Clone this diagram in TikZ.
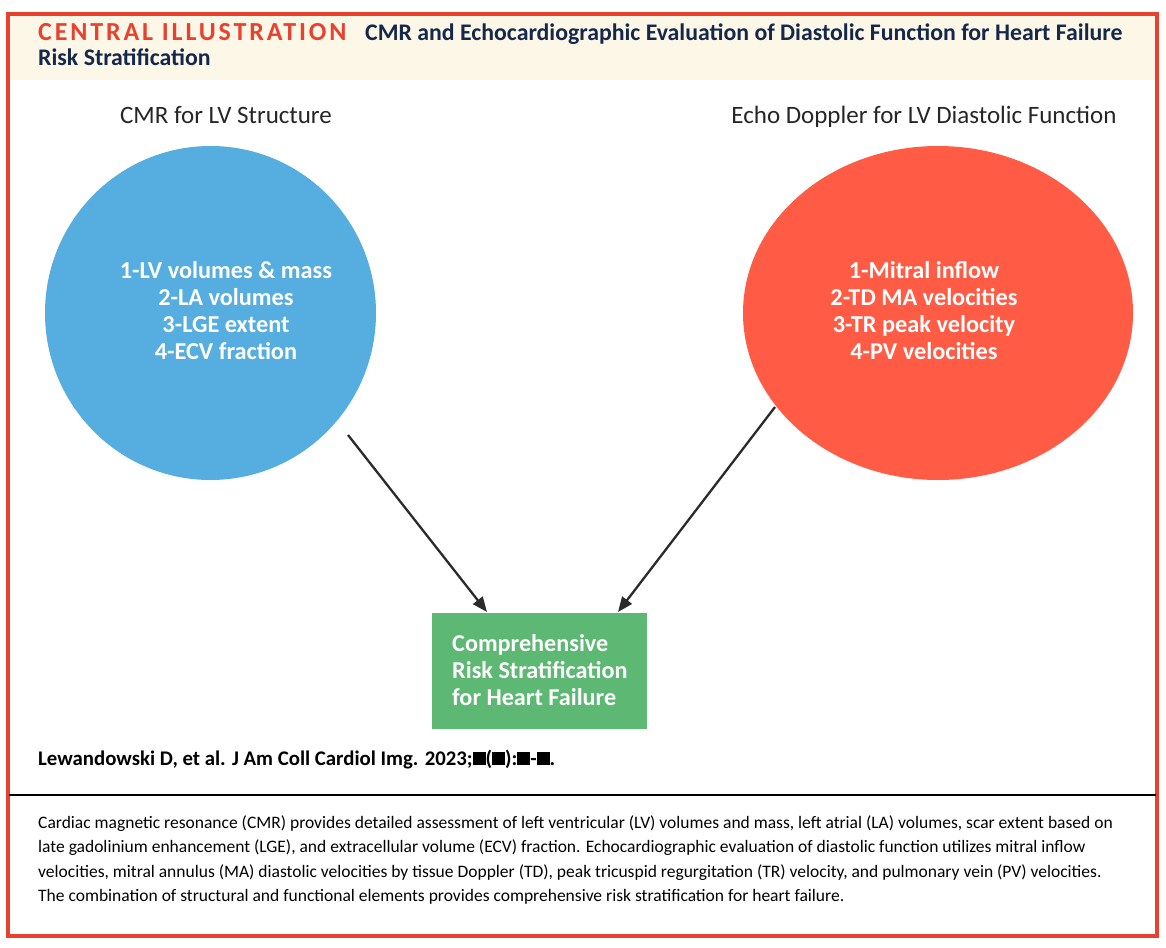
\documentclass[tikz,border=0pt]{standalone}
\usepackage{fontspec}
\setmainfont{Carlito}
\newfontfamily\spacedfont[LetterSpace=11]{Carlito}
\usetikzlibrary{arrows.meta}
\definecolor{jred}{HTML}{E8412F}
\definecolor{cream}{HTML}{FDF7E7}
\definecolor{navy}{HTML}{14284B}
\definecolor{cblue}{HTML}{56ADE0}
\definecolor{corange}{HTML}{FF5B45}
\definecolor{cgreen}{HTML}{5DB874}
\definecolor{arrowgray}{HTML}{2B2B2B}
\tikzset{
  circtext/.style={text=white, font=\fontsize{24.3}{27}\selectfont\bfseries, align=center},
  headtext/.style={font=\fontsize{25}{28}\selectfont, text=black!85, anchor=base},
  link/.style={draw=arrowgray, line width=2.3pt, -{Triangle[length=15pt,width=12pt]}},
}
\begin{document}
\begin{tikzpicture}[x=1pt,y=-1pt]
\useasboundingbox (0,0) rectangle (1166,947);
\fill[white] (0,0) rectangle (1166,947);
% header band
\fill[cream] (8,14) rectangle (1157,80);
% outer frame
\draw[jred, line width=3.5pt] (8,14) rectangle (1157,936);
% separator
\coordinate (sepL) at (9,795);
\coordinate (sepR) at (1156,795);
\draw[black, line width=1.3pt] (sepL) -- (sepR);
% title
\node[anchor=base west, inner sep=0, text=jred, font=\fontsize{26}{28}\selectfont\bfseries\spacedfont] (ci) at (38,41) {CENTRAL ILLUSTRATION};
\node[anchor=base west, inner sep=0, text=navy, font=\fontsize{23.8}{26}\selectfont\bfseries] (t1) at (365,41) {CMR and Echocardiographic Evaluation of Diastolic Function for Heart Failure};
\node[anchor=base west, inner sep=0, text=navy, font=\fontsize{23.8}{26}\selectfont\bfseries] (t2) at (38,66) {Risk Stratification};
% column headings
\node[headtext] (hl) at (226,124) {CMR for LV Structure};
\node[headtext] (hr) at (924,124) {Echo Doppler for LV Diastolic Function};
% circles
\fill[cblue] (210.5,313) ellipse [x radius=165.5, y radius=167];
\node[circtext] (lc) at (226,311) {1-LV volumes \& mass\\2-LA volumes\\3-LGE extent\\4-ECV fraction};
\fill[corange] (938,313) ellipse [x radius=195, y radius=167];
\node[circtext] (rc) at (924,311) {1-Mitral inflow\\2-TD MA velocities\\3-TR peak velocity\\4-PV velocities};
% green box
\node[fill=cgreen, minimum width=215, minimum height=116, anchor=north west, inner sep=0] (box) at (432,613) {};
\node[anchor=north west, inner sep=0, text=white, align=left, font=\fontsize{24.2}{27}\selectfont\bfseries] (boxt) at (452,634) {Comprehensive\\Risk Stratification\\for Heart Failure};
% arrows
\coordinate (a1) at (348,435);
\coordinate (b1) at (487,612);
\coordinate (a2) at (775,407);
\coordinate (b2) at (618,612);
\draw[link] (a1) -- (b1);
\draw[link] (a2) -- (b2);
% citation
\node[anchor=base west, inner sep=0, font=\fontsize{20.8}{22}\selectfont\bfseries] (cite) at (38,765) {Lewandowski D, et al. J Am Coll Cardiol Img. 2023;\rule{13pt}{13pt}(\rule{13pt}{13pt}):\rule{13pt}{13pt}-\rule{13pt}{13pt}.};
% caption
\node[anchor=north west, inner sep=0, align=left, font=\fontsize{17.5}{24.5}\selectfont] (cap) at (38,815) {Cardiac magnetic resonance (CMR) provides detailed assessment of left ventricular (LV) volumes and mass, left atrial (LA) volumes, scar extent based on\\late gadolinium enhancement (LGE), and extracellular volume (ECV) fraction. Echocardiographic evaluation of diastolic function utilizes mitral inflow\\velocities, mitral annulus (MA) diastolic velocities by tissue Doppler (TD), peak tricuspid regurgitation (TR) velocity, and pulmonary vein (PV) velocities.\\The combination of structural and functional elements provides comprehensive risk stratification for heart failure.};
\end{tikzpicture}
\end{document}
